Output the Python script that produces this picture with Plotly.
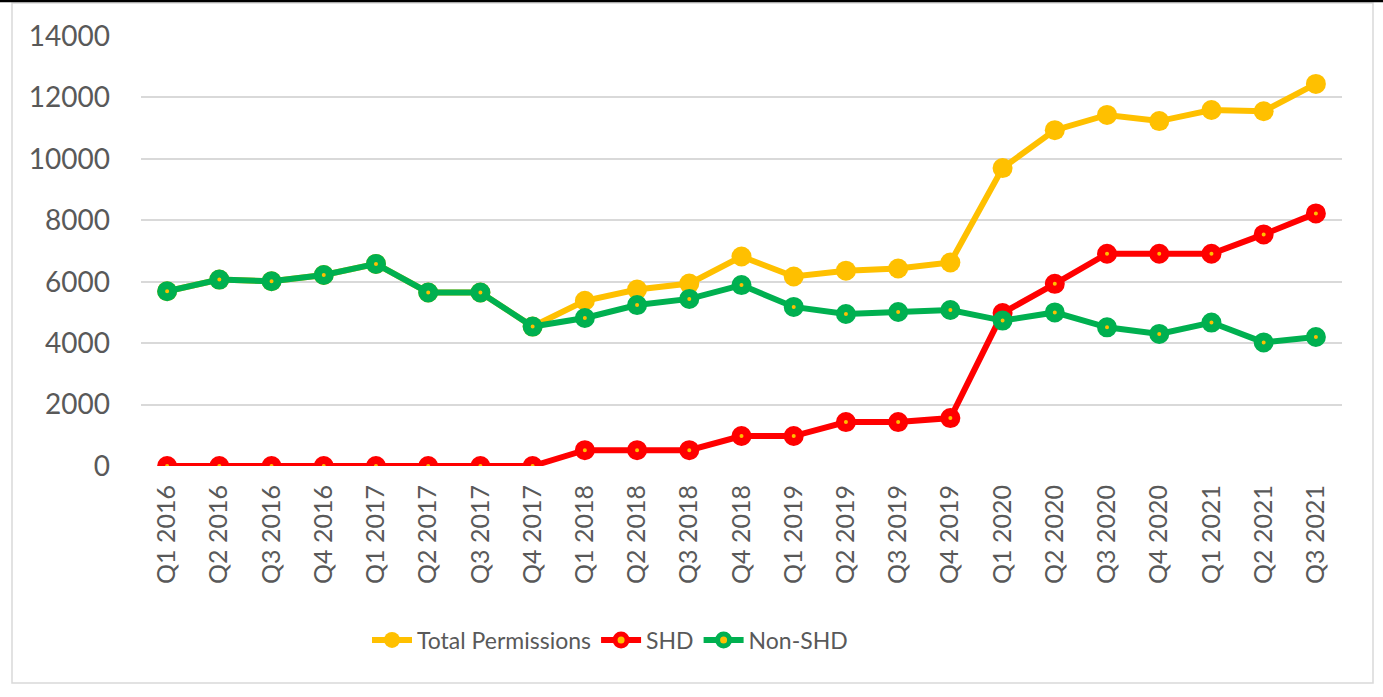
import plotly.graph_objects as go

quarters = ["Q1 2016", "Q2 2016", "Q3 2016", "Q4 2016",
            "Q1 2017", "Q2 2017", "Q3 2017", "Q4 2017",
            "Q1 2018", "Q2 2018", "Q3 2018", "Q4 2018",
            "Q1 2019", "Q2 2019", "Q3 2019", "Q4 2019",
            "Q1 2020", "Q2 2020", "Q3 2020", "Q4 2020",
            "Q1 2021", "Q2 2021", "Q3 2021"]

total = [5690, 6070, 6015, 6220, 6580, 5650, 5650, 4540,
         5380, 5745, 5940, 6820, 6170, 6360, 6430, 6625,
         9700, 10935, 11430, 11230, 11590, 11550, 12440]
shd = [0, 0, 0, 0, 0, 0, 0, 0,
       515, 515, 515, 975, 975, 1430, 1430, 1560,
       4980, 5930, 6910, 6910, 6910, 7540, 8225]
non_shd = [5690, 6070, 6015, 6220, 6580, 5650, 5650, 4540,
           4820, 5240, 5440, 5890, 5180, 4950, 5015, 5080,
           4735, 5000, 4515, 4300, 4670, 4025, 4200]

YELLOW = "#FFC000"
RED = "#FF0000"
GREEN = "#00B050"
TEXT = "#595959"

fig = go.Figure()
fig.add_trace(go.Scatter(
    x=quarters, y=total, name="Total Permissions", mode="lines+markers",
    line=dict(color=YELLOW, width=6),
    marker=dict(color=YELLOW, size=20, line=dict(width=0))))
fig.add_trace(go.Scatter(
    x=quarters, y=shd, name="SHD", mode="lines+markers",
    line=dict(color=RED, width=6),
    marker=dict(color=YELLOW, size=12, line=dict(color=RED, width=8))))
fig.add_trace(go.Scatter(
    x=quarters, y=non_shd, name="Non-SHD", mode="lines+markers",
    line=dict(color=GREEN, width=6),
    marker=dict(color=YELLOW, size=12, line=dict(color=GREEN, width=8))))

L, R, T, B = 141, 41, 36, 231
W, H = 1383, 697
pw = W - L - R
ph = H - T - B

def px(p):
    return (p - L) / pw

def py(p):
    return (H - B - p) / ph

fig.update_layout(
    width=W, height=H,
    margin=dict(l=L, r=R, t=T, b=B, autoexpand=False),
    paper_bgcolor="white", plot_bgcolor="white",
    font=dict(family="Lato, Open Sans, sans-serif", size=24, color=TEXT),
    showlegend=True,
    legend=dict(orientation="h", x=px(610), xanchor="center",
                y=py(640), yanchor="middle",
                font=dict(size=23, color=TEXT),
                itemwidth=40, tracegroupgap=0),
    xaxis=dict(type="category", range=[-0.5, len(quarters) - 0.5],
               showgrid=False, zeroline=False, showline=False,
               tickangle=-90, ticks="", ticklabelstandoff=13,
               tickfont=dict(size=25, color=TEXT)),
    yaxis=dict(range=[0, 14000], dtick=2000, tickformat="d",
               showgrid=True, gridcolor="#D9D9D9", gridwidth=1.5,
               zeroline=False, showline=False, ticks="",
               ticklabelstandoff=30,
               tickfont=dict(size=28, color=TEXT)),
    shapes=[
        dict(type="rect", xref="paper", yref="paper",
             x0=px(12), x1=px(1373), y0=py(683), y1=py(3),
             line=dict(color="#D9D9D9", width=1.5), layer="below"),
        dict(type="line", xref="paper", yref="paper",
             x0=px(0), x1=px(1383), y0=py(1), y1=py(1),
             line=dict(color="black", width=2.5)),
    ],
)

fig.write_html("out.html",
               config={"displayModeBar": False},
               post_script="document.body.style.margin='0';document.body.style.overflow='hidden';")
